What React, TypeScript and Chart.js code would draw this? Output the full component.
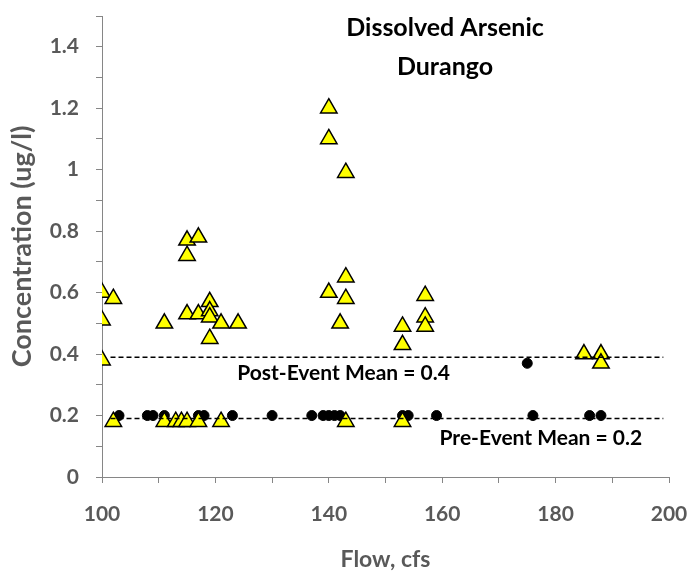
import React, { useEffect, useRef } from 'react';
import { Chart, registerables } from 'chart.js';
Chart.register(...registerables);

// Post-event samples (yellow triangles)
const postFlow = [100, 100, 100, 102, 102, 111, 111, 113, 114, 115, 115, 115, 115, 117, 117, 117, 119, 119, 119, 119, 121, 121, 124, 140, 140, 140, 142, 143, 143, 143, 143, 153, 153, 153, 157, 157, 157, 185, 188, 188];
const postConc = [0.60, 0.51, 0.38, 0.58, 0.18, 0.50, 0.18, 0.18, 0.18, 0.77, 0.72, 0.53, 0.18, 0.78, 0.53, 0.18, 0.57, 0.54, 0.52, 0.45, 0.50, 0.18, 0.50, 1.20, 1.10, 0.60, 0.50, 0.99, 0.65, 0.58, 0.18, 0.49, 0.43, 0.18, 0.59, 0.52, 0.49, 0.40, 0.40, 0.37];

// Pre-event samples (black circles)
const preFlow = [103, 108, 109, 111, 117, 118, 123, 130, 137, 139, 140, 141, 142, 153, 154, 159, 175, 176, 186, 188];
const preConc = [0.2, 0.2, 0.2, 0.2, 0.2, 0.2, 0.2, 0.2, 0.2, 0.2, 0.2, 0.2, 0.2, 0.2, 0.2, 0.2, 0.37, 0.2, 0.2, 0.2];

// Mean lines
const meanLineFlow = [101.5, 199];
const postMean = [0.39, 0.39];
const preMean = [0.19, 0.19];

// Tick labels
const xTickValues = [100, 120, 140, 160, 180, 200];
const yTickValues = [0, 0.2, 0.4, 0.6, 0.8, 1, 1.2, 1.4];

const titleLines = ['Dissolved Arsenic', 'Durango'];
const postLabel = 'Post-Event Mean = 0.4';
const preLabel = 'Pre-Event Mean = 0.2';

const FONT = 'Lato, "Open Sans", sans-serif';
const GRAY = '#595959';
const AXIS = '#868686';

const toPts = (xs: number[], ys: number[]) => xs.map((x, i) => ({ x, y: ys[i] }));

const textPlugin = {
  id: 'textPlugin',
  afterDatasetsDraw(chart: any) {
    const { ctx, scales } = chart;
    const xs = scales.x;
    const ys = scales.y;
    ctx.save();
    ctx.fillStyle = '#000';
    ctx.textAlign = 'center';
    ctx.textBaseline = 'middle';
    ctx.font = `bold 25px ${FONT}`;
    ctx.fillText(titleLines[0], xs.getPixelForValue(160.5), ys.getPixelForValue(1.46));
    ctx.fillText(titleLines[1], xs.getPixelForValue(160.5), ys.getPixelForValue(1.334));
    ctx.font = `bold 21px ${FONT}`;
    ctx.fillText(postLabel, xs.getPixelForValue(142.6), ys.getPixelForValue(0.338));
    ctx.fillText(preLabel, xs.getPixelForValue(177.4), ys.getPixelForValue(0.127));
    ctx.restore();
  },
};

export default function App() {
  const ref = useRef<HTMLCanvasElement | null>(null);
  useEffect(() => {
    document.body.style.margin = '0';
    const canvas = ref.current;
    if (!canvas) return;
    const chart = new Chart(canvas, {
      type: 'scatter',
      data: {
        datasets: [
          {
            label: 'Post-Event Mean',
            data: toPts(meanLineFlow, postMean),
            showLine: true,
            borderColor: '#000',
            borderWidth: 1.5,
            borderDash: [5, 3],
            pointRadius: 0,
            pointHoverRadius: 0,
          },
          {
            label: 'Pre-Event Mean',
            data: toPts(meanLineFlow, preMean),
            showLine: true,
            borderColor: '#000',
            borderWidth: 1.5,
            borderDash: [5, 3],
            pointRadius: 0,
            pointHoverRadius: 0,
          },
          {
            label: 'Post-Event',
            data: toPts(postFlow, postConc),
            pointStyle: 'triangle',
            pointRadius: 9.5,
            backgroundColor: '#FFFF00',
            borderColor: '#000',
            borderWidth: 1.5,
          },
          {
            label: 'Pre-Event',
            data: toPts(preFlow, preConc),
            pointStyle: 'circle',
            pointRadius: 5,
            backgroundColor: '#000',
            borderColor: '#000',
            borderWidth: 1,
          },
        ],
      },
      options: {
        responsive: false,
        animation: false,
        layout: { padding: { left: 0, right: 18, top: 16, bottom: 0 } },
        plugins: { legend: { display: false }, tooltip: { enabled: false } },
        scales: {
          x: {
            type: 'linear',
            min: 100,
            max: 200,
            afterFit: (s: any) => {
              s.height = 96;
              s.paddingLeft = 0;
              s.paddingRight = 0;
            },
            ticks: {
              stepSize: 10,
              autoSkip: false,
              maxRotation: 0,
              padding: 19,
              color: GRAY,
              font: { family: FONT, size: 21, weight: 'bold' },
              callback: (v: any) => (xTickValues.includes(Number(v)) ? String(v) : ''),
            },
            grid: { drawOnChartArea: false, drawTicks: true, tickLength: 6, color: AXIS },
            border: { display: true, color: AXIS, width: 1 },
            title: {
              display: true,
              text: 'Flow, cfs',
              color: GRAY,
              font: { family: FONT, size: 23, weight: 'bold' },
              padding: { top: 0, bottom: 0 },
            },
          },
          y: {
            type: 'linear',
            min: 0,
            max: 1.5,
            afterFit: (s: any) => {
              s.width = 102;
              s.paddingTop = 0;
              s.paddingBottom = 0;
            },
            ticks: {
              stepSize: 0.1,
              autoSkip: false,
              padding: 17,
              color: GRAY,
              font: { family: FONT, size: 21, weight: 'bold' },
              callback: (v: any) => {
                const n = Number(v);
                const m = yTickValues.find((t) => Math.abs(t - n) < 1e-6);
                return m === undefined ? '' : String(m);
              },
            },
            grid: { drawOnChartArea: false, drawTicks: true, tickLength: 6, color: AXIS },
            border: { display: true, color: AXIS, width: 1 },
            title: {
              display: true,
              text: 'Concentration (ug/l)',
              color: GRAY,
              font: { family: FONT, size: 27, weight: 'bold' },
              padding: { top: 6, bottom: 0 },
            },
          },
        },
      },
      plugins: [textPlugin],
    });
    return () => chart.destroy();
  }, []);
  return <canvas ref={ref} width={687} height={573} style={{ display: 'block' }} />;
}
